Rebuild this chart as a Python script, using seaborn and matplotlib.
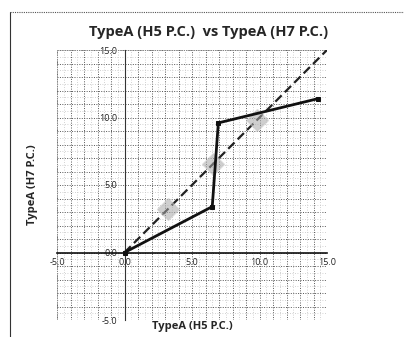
import matplotlib
matplotlib.use("Agg")
import matplotlib.pyplot as plt
import seaborn as sns
import numpy as np
import pandas as pd
from matplotlib.lines import Line2D
from matplotlib.ticker import MultipleLocator, FormatStrFormatter

# Data
h5_values = [0.0, 6.5, 6.95, 14.35]
h7_values = [0.0, 3.4, 9.6, 11.4]
ref_x = [0.0, 15.0]
ref_y = [0.0, 15.0]
mark_x = [3.2, 6.55, 9.8]
mark_y = [3.2, 6.55, 9.8]
tick_values = [-5.0, 0.0, 5.0, 10.0, 15.0]

title = "TypeA (H5 P.C.)  vs TypeA (H7 P.C.)"
xlabel = "TypeA (H5 P.C.)"
ylabel = "TypeA (H7 P.C.)"

sns.set_style("white")
plt.rcParams['font.family'] = ['Open Sans', 'DejaVu Sans']

fig = plt.figure(figsize=(4.04, 3.37), dpi=100)
ax = fig.add_axes([57/404, 1-320/337, 270/404, 270/337])

df_line = pd.DataFrame({"x": h5_values, "y": h7_values})
df_ref = pd.DataFrame({"x": ref_x, "y": ref_y})
df_mark = pd.DataFrame({"x": mark_x, "y": mark_y})

sns.lineplot(data=df_ref, x="x", y="y", ax=ax, color="#222222", lw=1.6,
             linestyle=(0, (4, 2)), zorder=4, sort=False)
sns.scatterplot(data=df_mark, x="x", y="y", ax=ax, color="#a8a8a8", alpha=0.55,
                s=120, marker="D", edgecolor="#c8c8c8", linewidth=1.2, zorder=5)
sns.lineplot(data=df_line, x="x", y="y", ax=ax, color="#111111", lw=2.0,
             marker="s", markersize=3.5, markeredgecolor="#111111", zorder=6, sort=False)

ax.set_xlim(-5, 15)
ax.set_ylim(-5, 15)
ax.set_xticks(tick_values)
ax.set_yticks(tick_values)
ax.xaxis.set_major_formatter(FormatStrFormatter("%.1f"))
ax.yaxis.set_major_formatter(FormatStrFormatter("%.1f"))
ax.xaxis.set_minor_locator(MultipleLocator(0.5))
ax.yaxis.set_minor_locator(MultipleLocator(0.5))

# grid
for v in np.arange(-5, 15.01, 1.0):
    ax.axvline(v, color="#555555", lw=0.7, linestyle=(0, (1, 1.5)), zorder=1)
    ax.axhline(v, color="#555555", lw=0.7, linestyle=(0, (1, 1.5)), zorder=1)
for v in np.arange(-4.5, 15, 1.0):
    ax.axvline(v, color="#c4c4c4", lw=0.6, linestyle=(0, (1, 2)), zorder=1)
    ax.axhline(v, color="#c4c4c4", lw=0.6, linestyle=(0, (1, 2)), zorder=1)

for s in ["top", "right"]:
    ax.spines[s].set_visible(False)
ax.spines["left"].set_position(("data", 0))
ax.spines["bottom"].set_position(("data", 0))
ax.spines["bottom"].set_color("#111111")
ax.spines["bottom"].set_linewidth(1.2)
ax.spines["left"].set_color("#333333")
ax.spines["left"].set_linewidth(0.8)
ax.spines["left"].set_linestyle((0, (1, 1)))
ax.tick_params(axis="both", which="both", length=0, labelsize=6.5, colors="#222222")
ax.tick_params(axis="y", pad=5)
ax.tick_params(axis="x", pad=4)

ax.set_xlabel("")
ax.set_ylabel("")
ax.grid(False)

# plot area border
border = plt.Rectangle((0, 0), 1, 1, transform=ax.transAxes, fill=False,
                       edgecolor="#888888", lw=0.7, linestyle=(0, (1, 1)), zorder=2)
ax.add_patch(border)

fig.text(209/404, 1-32/337, title, ha="center", va="center", fontsize=10.5, fontweight="bold")
fig.text(192/404, 1-327/337, xlabel, ha="center", va="center", fontsize=8, fontweight="bold")
fig.text(33/404, 1-185/337, ylabel, ha="center", va="center", fontsize=8, fontweight="bold", rotation=90)

# outer frame (cut at right/bottom)
fig.add_artist(Line2D([10/404, 10/404], [0, 1-12/337], transform=fig.transFigure, color="#333333", lw=0.8))
fig.add_artist(Line2D([10/404, 1], [1-12/337, 1-12/337], transform=fig.transFigure, color="#555555", lw=0.8, linestyle=(0, (1, 1))))

fig.savefig("out.png", dpi=100)
